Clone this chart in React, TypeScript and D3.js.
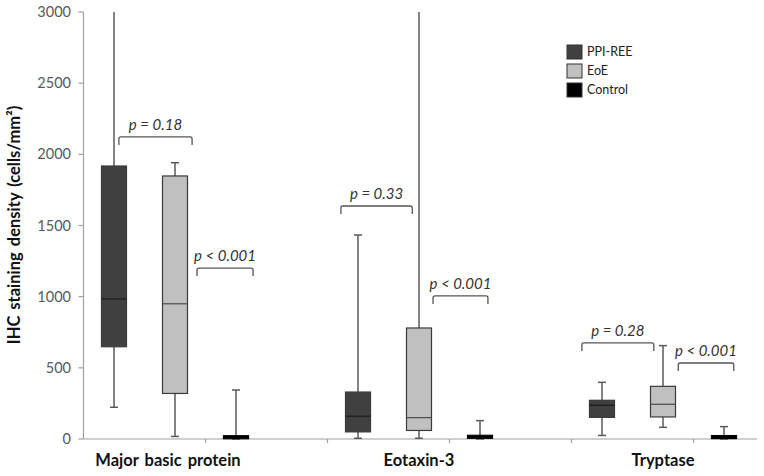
import React from "react";
import * as d3 from "d3";

const categories = ["Major basic protein", "Eotaxin-3", "Tryptase"];
const groups = ["PPI-REE", "EoE", "Control"];
const groupColors = ["#404040", "#c0c0c0", "#000000"];

// [min, q1, median, q3, max] per category, per group
const ppiRee = [
  [223, 648, 984, 1918, 3000],
  [5, 50, 160, 330, 1433],
  [25, 152, 237, 272, 398],
];
const eoe = [
  [18, 320, 950, 1848, 1941],
  [5, 60, 150, 780, 3000],
  [82, 155, 244, 370, 656],
];
const control = [
  [0, 2, 5, 10, 344],
  [0, 5, 12, 24, 129],
  [0, 3, 6, 14, 87],
];
const series = [ppiRee, eoe, control];

const yTicks = [0, 500, 1000, 1500, 2000, 2500, 3000];

// annotations: [slotStart, slotEnd, value at bracket top, label]
const bracketStart = [0.58, 1.86, 4.22, 5.73, 8.17, 9.75];
const bracketEnd = [1.78, 2.78, 5.39, 6.63, 9.35, 10.66];
const bracketValue = [2122, 1201, 1637, 1005, 675, 534];
const bracketLabel = ["p = 0.18", "p < 0.001", "p = 0.33", "p < 0.001", "p = 0.28", "p < 0.001"];

const W = 764;
const H = 476;
const left = 83.5;
const slotW = 61;
const nSlots = 11;
const FONT = "Lato, 'Open Sans', sans-serif";

export default function App() {
  const y = d3.scaleLinear().domain([0, 3000]).range([439, 12]).clamp(true);
  const xs = d3.scaleLinear().domain([0, nSlots]).range([left, left + slotW * nSlots]);
  const slotCenter = (s: number) => xs(s + 0.5);
  const boxW = 25;
  const capW = 8;

  const boxes: React.ReactNode[] = [];
  categories.forEach((cat, ci) => {
    series.forEach((ser, gi) => {
      const [mn, q1, md, q3, mx] = ser[ci];
      const cx = slotCenter(ci * 4 + gi);
      const isControl = gi === 2;
      boxes.push(
        <g key={`${ci}-${gi}`}>
          <line x1={cx} x2={cx} y1={y(mx)} y2={y(q3)} stroke="#5a5a5a" strokeWidth={1.5} />
          <line x1={cx} x2={cx} y1={y(q1)} y2={y(mn)} stroke="#5a5a5a" strokeWidth={1.5} />
          {mx < 3000 && (
            <line x1={cx - capW / 2} x2={cx + capW / 2} y1={y(mx)} y2={y(mx)} stroke="#5a5a5a" strokeWidth={1.5} />
          )}
          <line x1={cx - capW / 2} x2={cx + capW / 2} y1={y(mn)} y2={y(mn)} stroke="#5a5a5a" strokeWidth={1.5} />
          <rect
            x={cx - boxW / 2}
            y={Math.min(y(q3), y(q1) - (isControl ? 3 : 0))}
            width={boxW}
            height={Math.max(y(q1) - y(q3), isControl ? 3 : 0)}
            fill={groupColors[gi]}
            stroke={isControl ? "#000" : "#3a3a3a"}
            strokeWidth={1.2}
          />
          {!isControl && (
            <line x1={cx - boxW / 2} x2={cx + boxW / 2} y1={y(md)} y2={y(md)} stroke={gi === 0 ? "#1a1a1a" : "#4a4a4a"} strokeWidth={1.2} />
          )}
        </g>
      );
    });
  });

  const brackets = bracketLabel.map((lab, i) => {
    const x1 = xs(bracketStart[i]);
    const x2 = xs(bracketEnd[i]);
    const yt = y(bracketValue[i]);
    const drop = 8;
    const r = 2;
    const d = `M${x1},${yt + drop} L${x1},${yt + r} Q${x1},${yt} ${x1 + r},${yt} L${x2 - r},${yt} Q${x2},${yt} ${x2},${yt + r} L${x2},${yt + drop}`;
    return (
      <g key={`b${i}`}>
        <path d={d} fill="none" stroke="#555" strokeWidth={1.3} />
        <text x={(x1 + x2) / 2} y={yt - 7} textAnchor="middle" fontFamily={FONT} fontStyle="italic" fontSize={15} fill="#333">
          {lab}
        </text>
      </g>
    );
  });

  return (
    <svg width={W} height={H} style={{ position: "absolute", left: 0, top: 0, background: "#fff" }}>
      {/* y axis */}
      <line x1={left} x2={left} y1={12} y2={439} stroke="#a0a0a0" strokeWidth={1.2} />
      {yTicks.map((t) => (
        <g key={t}>
          <line x1={left - 5} x2={left} y1={y(t)} y2={y(t)} stroke="#a0a0a0" strokeWidth={1.2} />
          <text x={71} y={y(t)} dy="0.35em" textAnchor="end" fontFamily={FONT} fontSize={14.5} fill="#595959">
            {t}
          </text>
        </g>
      ))}
      {/* x axis */}
      <line x1={left} x2={757} y1={439} y2={439} stroke="#a0a0a0" strokeWidth={1.2} />
      {[2, 4, 6, 8, 10].map((s) => (
        <line key={s} x1={xs(s)} x2={xs(s)} y1={439} y2={443} stroke="#a0a0a0" strokeWidth={1.2} />
      ))}
      {categories.map((c, ci) => (
        <text key={c} x={slotCenter(ci * 4 + 1) - (ci === 0 ? 7 : 0)} y={466} textAnchor="middle" fontFamily={FONT} fontWeight="bold" fontSize={16.5} wordSpacing={2} fill="#111">
          {c}
        </text>
      ))}
      <text
        transform={`translate(20,225) rotate(-90)`}
        textAnchor="middle"
        fontFamily={FONT}
        fontWeight="bold"
        fontSize={16.5}
        wordSpacing={2}
        fill="#111"
      >
        IHC staining density (cells/mm²)
      </text>
      {boxes}
      {brackets}
      {/* legend */}
      {groups.map((g, i) => (
        <g key={g} transform={`translate(567,${45 + i * 19})`}>
          <rect width={15} height={14} fill={groupColors[i]} stroke="#333" strokeWidth={1} />
          <text x={20} y={7} dy="0.35em" fontFamily={FONT} fontSize={12.5} fill="#222">
            {g}
          </text>
        </g>
      ))}
    </svg>
  );
}
